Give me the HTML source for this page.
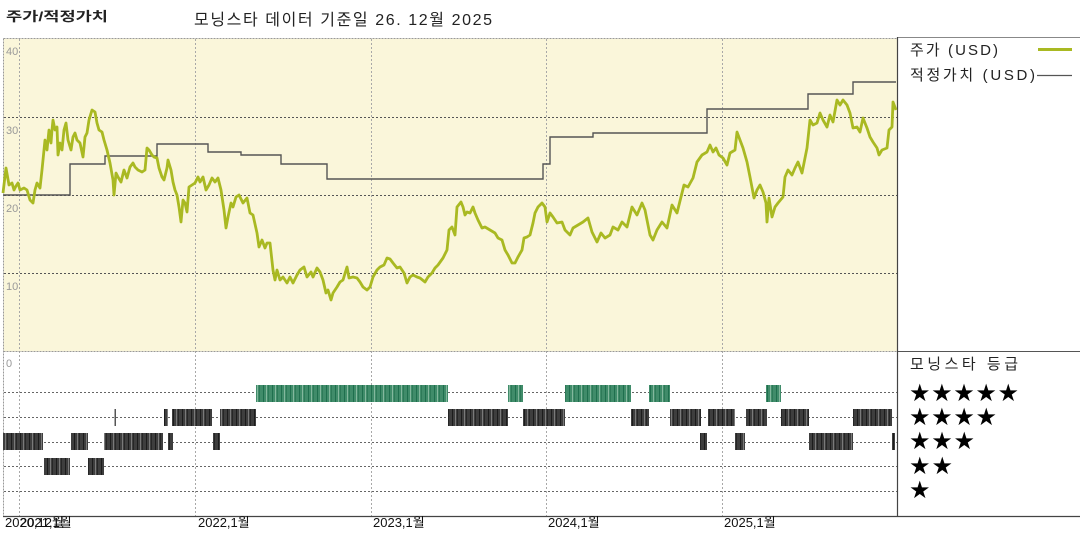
<!DOCTYPE html>
<html><head><meta charset="utf-8"><style>
html,body{margin:0;padding:0;background:#fff;width:1080px;height:540px;overflow:hidden}
svg{display:block}
text{font-family:"Liberation Sans","Noto Sans CJK KR",sans-serif}
</style></head><body>
<svg width="1080" height="540" viewBox="0 0 1080 540" xmlns="http://www.w3.org/2000/svg">
<defs>
<pattern id="dk" width="9" height="20" patternUnits="userSpaceOnUse">
<rect width="9" height="20" fill="#3e3e3e"/><rect x="2" width="1" height="20" fill="#1c1c1c"/><rect x="5" width="1" height="20" fill="#7a7a7a"/><rect x="7" width="1" height="20" fill="#262626"/>
</pattern>
<pattern id="gr" width="9" height="20" patternUnits="userSpaceOnUse">
<rect width="9" height="20" fill="#408c6a"/><rect x="2" width="1" height="20" fill="#1f6f4e"/><rect x="5" width="1" height="20" fill="#84b89e"/><rect x="7" width="1" height="20" fill="#2d7a58"/>
</pattern>
</defs>

<!-- titles -->
<text x="6" y="21" font-size="13" font-weight="bold" fill="#222" textLength="102" lengthAdjust="spacingAndGlyphs">주가/적정가치</text>
<text x="194" y="25" font-size="16" fill="#222" textLength="298" lengthAdjust="spacing">모닝스타 데이터 기준일 26. 12월 2025</text>

<!-- top panel background -->
<rect x="3.5" y="38.5" width="893.5" height="313" fill="#faf6da"/>

<!-- vertical grid -->
<g stroke="#a8a8a8" stroke-width="1" stroke-dasharray="2,2">
<line x1="19.5" y1="39" x2="19.5" y2="516"/>
<line x1="195.5" y1="39" x2="195.5" y2="516"/>
<line x1="371.5" y1="39" x2="371.5" y2="516"/>
<line x1="546.5" y1="39" x2="546.5" y2="516"/>
<line x1="722.5" y1="39" x2="722.5" y2="516"/>
</g>
<!-- horizontal grid top -->
<g stroke="#555" stroke-width="1" stroke-dasharray="2,2">
<line x1="4" y1="117.5" x2="897" y2="117.5"/>
<line x1="4" y1="195.5" x2="897" y2="195.5"/>
<line x1="4" y1="273.5" x2="897" y2="273.5"/>
</g>
<!-- borders -->
<g stroke="#999" stroke-width="1" stroke-dasharray="2,1">
<line x1="3.5" y1="38.5" x2="897" y2="38.5"/>
<line x1="3.5" y1="38.5" x2="3.5" y2="516"/>
<line x1="3.5" y1="351.5" x2="897" y2="351.5"/>
</g>
<line x1="897" y1="37.5" x2="1080" y2="37.5" stroke="#888" stroke-width="1"/>
<line x1="897" y1="351.5" x2="1080" y2="351.5" stroke="#555" stroke-width="1"/>
<line x1="897.5" y1="37" x2="897.5" y2="517" stroke="#444" stroke-width="1.2"/>
<line x1="3" y1="516.5" x2="1080" y2="516.5" stroke="#444" stroke-width="1.2"/>

<!-- y labels -->
<g font-size="11" fill="#999">
<text x="6" y="55">40</text>
<text x="6" y="134">30</text>
<text x="6" y="212">20</text>
<text x="6" y="290">10</text>
<text x="6" y="367">0</text>
</g>

<!-- fair value -->
<path d="M3,195 H70 V164 H105 V156 H157 V144 H208 V152 H241 V155 H281 V164 H327 V179 H543 V164 H550 V137 H593 V133 H707 V109 H808 V94 H853 V82 H896" fill="none" stroke="#555" stroke-width="1.4"/>

<!-- price -->
<polyline fill="none" stroke="#a9b922" stroke-width="2.8" stroke-linejoin="round" points="3,193 6,168 9,185 12,183 14,190 16,186 18,183 20,190 24,188 27,190 30,200 33,203 35,190 37,183 40,188 42,170 44,150 45,140 47,150 49,130 51,143 52,130 53,120 55,130 57,127 58,155 60,143 62,150 64,130 66,123 68,140 71,150 73,137 75,133 77,140 80,143 83,157 85,137 87,133 89,120 92,110 95,112 97,123 99,130 102,132 104,140 107,150 110,163 113,180 114,195 116,173 118,177 121,182 124,170 127,178 130,167 133,163 135,167 138,170 142,172 145,170 147,148 149,150 152,155 154,157 157,158 159,168 162,177 164,180 167,168 168,160 171,170 173,182 175,190 177,195 179,207 181,222 183,200 185,203 187,212 189,187 192,185 195,183 198,177 200,182 203,177 206,190 209,185 212,178 215,182 218,178 221,190 224,210 226,228 228,217 231,203 233,207 236,197 239,195 243,203 247,198 250,213 253,215 257,233 259,247 262,240 265,248 267,243 270,243 273,270 275,280 277,270 280,280 283,277 287,283 290,277 293,283 297,275 300,270 304,267 307,277 311,272 313,277 317,268 320,272 323,280 326,293 328,290 331,300 333,293 337,287 340,282 343,280 347,267 349,278 353,277 357,278 360,282 363,287 367,290 370,287 373,277 377,270 380,267 384,265 387,258 390,259 393,263 397,268 400,267 404,273 407,283 410,277 413,275 417,277 420,278 425,282 428,277 432,273 435,268 438,265 443,258 447,250 449,230 452,227 455,235 457,207 461,202 463,207 465,215 467,212 470,213 473,207 475,213 478,220 482,228 485,227 490,230 495,233 498,238 502,240 505,250 508,255 512,263 515,263 518,257 522,250 524,238 527,237 530,235 533,223 535,213 538,207 542,203 545,207 547,222 550,213 553,217 557,223 562,222 565,230 570,235 573,228 578,225 583,222 588,218 592,232 597,242 601,233 605,238 610,235 613,227 618,230 622,222 627,227 632,207 637,215 642,203 645,210 650,235 653,240 657,230 662,222 667,228 672,205 677,213 682,193 684,185 688,187 693,178 697,162 702,155 707,152 710,145 713,152 716,148 719,155 723,158 727,165 730,153 735,150 737,132 740,140 743,148 747,162 750,177 754,198 757,190 760,185 763,192 766,203 767,222 769,198 772,217 775,207 778,203 783,197 785,177 788,170 792,175 795,168 798,162 802,173 804,163 807,148 810,120 813,125 817,123 820,113 823,120 827,127 830,115 833,122 837,100 840,105 843,100 847,105 850,113 853,128 857,127 860,132 863,118 867,128 870,137 873,142 877,148 879,155 882,150 887,148 889,130 892,127 893,102 896,110"/>

<!-- bottom panel dashed rows -->
<g stroke="#666" stroke-width="1" stroke-dasharray="2,2">
<line x1="4" y1="392.5" x2="897" y2="392.5"/>
<line x1="4" y1="417.5" x2="897" y2="417.5"/>
<line x1="4" y1="442.5" x2="897" y2="442.5"/>
<line x1="4" y1="466.5" x2="897" y2="466.5"/>
<line x1="4" y1="491.5" x2="897" y2="491.5"/>
</g>

<!-- 5 star -->
<g fill="url(#gr)">
<rect x="256" y="385" width="192" height="17"/>
<rect x="508" y="385" width="15" height="17"/>
<rect x="565" y="385" width="66" height="17"/>
<rect x="649" y="385" width="21" height="17"/>
<rect x="766" y="385" width="15" height="17"/>
</g>
<!-- 4 star -->
<g fill="url(#dk)">
<rect x="114.5" y="409" width="1.5" height="17" fill="#555"/>
<rect x="164" y="409" width="4" height="17"/>
<rect x="172" y="409" width="40" height="17"/>
<rect x="220" y="409" width="36" height="17"/>
<rect x="448" y="409" width="60" height="17"/>
<rect x="523" y="409" width="42" height="17"/>
<rect x="631" y="409" width="18" height="17"/>
<rect x="670" y="409" width="31" height="17"/>
<rect x="708" y="409" width="27" height="17"/>
<rect x="746" y="409" width="21" height="17"/>
<rect x="781" y="409" width="28" height="17"/>
<rect x="853" y="409" width="39" height="17"/>
</g>
<!-- 3 star -->
<g fill="url(#dk)">
<rect x="3" y="433" width="40" height="17"/>
<rect x="71" y="433" width="17" height="17"/>
<rect x="104" y="433" width="59" height="17"/>
<rect x="168" y="433" width="5" height="17"/>
<rect x="213" y="433" width="7" height="17"/>
<rect x="700" y="433" width="7" height="17"/>
<rect x="735" y="433" width="10" height="17"/>
<rect x="809" y="433" width="44" height="17"/>
<rect x="892" y="433" width="3" height="17"/>
</g>
<!-- 2 star -->
<g fill="url(#dk)">
<rect x="44" y="458" width="26" height="17"/>
<rect x="88" y="458" width="16" height="17"/>
</g>

<!-- x labels -->
<g font-size="13" fill="#111">
<text x="5" y="527">2020,12월</text>
<text x="20" y="527">2021,1월</text>
<text x="198" y="527">2022,1월</text>
<text x="373" y="527">2023,1월</text>
<text x="548" y="527">2024,1월</text>
<text x="724" y="527">2025,1월</text>
</g>

<!-- legend -->
<text x="910" y="55" font-size="15" fill="#222" textLength="88" lengthAdjust="spacing">주가 (USD)</text>
<line x1="1038" y1="49.5" x2="1072" y2="49.5" stroke="#a9b922" stroke-width="3"/>
<text x="910" y="80" font-size="15" fill="#222" textLength="125" lengthAdjust="spacing">적정가치 (USD)</text>
<line x1="1037" y1="75.5" x2="1072" y2="75.5" stroke="#555" stroke-width="1.3"/>

<text x="910" y="369" font-size="15" fill="#222" textLength="108" lengthAdjust="spacing">모닝스타 등급</text>
<g font-size="24" fill="#000">
<text x="909" y="401" textLength="110" lengthAdjust="spacing" style="font-family:'DejaVu Sans',sans-serif">★★★★★</text>
<text x="909" y="425" textLength="88" lengthAdjust="spacing" style="font-family:'DejaVu Sans',sans-serif">★★★★</text>
<text x="909" y="449" textLength="66" lengthAdjust="spacing" style="font-family:'DejaVu Sans',sans-serif">★★★</text>
<text x="909" y="474" textLength="44" lengthAdjust="spacing" style="font-family:'DejaVu Sans',sans-serif">★★</text>
<text x="909" y="498" style="font-family:'DejaVu Sans',sans-serif">★</text>
</g>
</svg>
</body></html>
